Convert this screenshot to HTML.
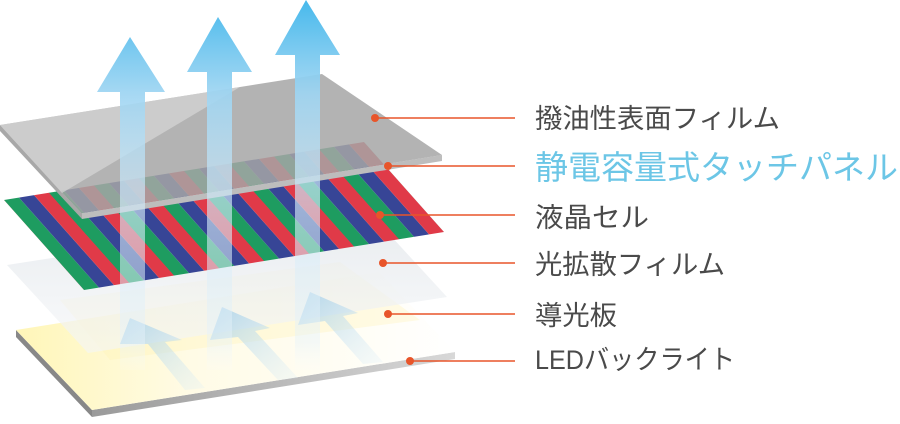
<!DOCTYPE html>
<html><head><meta charset="utf-8"><style>
html,body{margin:0;padding:0;background:#fff;}
svg{display:block;}
text{font-family:"Liberation Sans","Noto Sans CJK JP",sans-serif;}
</style></head><body>
<svg width="900" height="424" viewBox="0 0 900 424" xmlns="http://www.w3.org/2000/svg">
<defs>
<linearGradient id="bl" x1="0" y1="0" x2="1" y2="0">
<stop offset="0" stop-color="#fff6b8"/><stop offset="0.4" stop-color="#fffbe6"/><stop offset="1" stop-color="#ffffff"/>
</linearGradient>
<linearGradient id="edge" x1="0" y1="0" x2="1" y2="0">
<stop offset="0" stop-color="#9a9a9a"/><stop offset="1" stop-color="#d8d8d8"/>
</linearGradient>
<linearGradient id="df" x1="0" y1="0" x2="0" y2="1">
<stop offset="0" stop-color="#e4e8ec" stop-opacity="0.9"/><stop offset="1" stop-color="#f4f6f8" stop-opacity="0.6"/>
</linearGradient>
<pattern id="rgb" patternUnits="userSpaceOnUse" width="3" height="1" patternTransform="matrix(15,-2.42,80,90,4,200)">
<rect x="0" y="0" width="1" height="1" fill="#1e9c60"/>
<rect x="1" y="0" width="1" height="1" fill="#374596"/>
<rect x="2" y="0" width="1" height="1" fill="#e03a48"/>
</pattern>
<linearGradient id="ar" x1="0" y1="0" x2="0" y2="380" gradientUnits="userSpaceOnUse">
<stop offset="0" stop-color="#47b9ec"/>
<stop offset="0.25" stop-color="#9fd5f2" stop-opacity="0.92"/>
<stop offset="0.55" stop-color="#d2eaf8" stop-opacity="0.65"/>
<stop offset="0.9" stop-color="#e6f2fa" stop-opacity="0.45"/>
<stop offset="1" stop-color="#ffffff" stop-opacity="0"/>
</linearGradient>
<linearGradient id="sa" x1="0" y1="0" x2="1" y2="1">
<stop offset="0" stop-color="#9ccbe8" stop-opacity="0.75"/><stop offset="1" stop-color="#d8ecf8" stop-opacity="0.2"/>
</linearGradient>
</defs>

<!-- backlight -->
<polygon points="16,330 92,410 92,417 16,337" fill="#888"/>
<polygon points="92,410 455,352 455,359 92,417" fill="url(#edge)"/>
<polygon points="16,330 379,272 455,352 92,410" fill="url(#bl)"/>
<polygon points="60,300 340,262 420,320 110,360" fill="#fff3b0" opacity="0.3"/>

<!-- diffusion film -->
<polygon points="7,265 366,209 447,297 88,353" fill="url(#df)"/>

<!-- small arrows -->
<g fill="url(#sa)">
<polygon points="120,344 130,318 182,340 165,342 205,388 185,390 148,344"/>
<polygon points="210,340 222,307 270,328 255,331 298,378 278,380 238,337"/>
<polygon points="298,325 310,292 358,313 343,316 383,362 363,364 325,321"/>
</g>

<!-- LCD -->
<polygon points="4,200 364,142 444,232 84,290" fill="url(#rgb)"/>

<!-- top panel -->
<polygon points="82,213 442,155 442,161 82,219" fill="#bdbdbd"/>
<polygon points="0,125 82,213 82,219 0,131" fill="#a8a8a8"/>
<polygon points="0,125 322,74 442,155 82,213" fill="#a6a6a6" opacity="0.85"/>
<polygon points="0,125 240,87 62,193" fill="#d4d4d4" opacity="0.75"/>

<!-- big arrows -->
<polygon points="130,37 165,92 145,92 145,370 120,370 120,92 97,92" fill="url(#ar)"/>
<polygon points="218,17 252,72 232,72 232,370 207,370 207,72 187,72" fill="url(#ar)"/>
<polygon points="306,0 340,55 320,55 320,370 295,370 295,55 275,55" fill="url(#ar)"/>

<!-- leaders -->
<g stroke="#e8552a" stroke-width="1.5">
<line x1="375" y1="118" x2="515" y2="118"/>
<line x1="388" y1="166" x2="515" y2="166"/>
<line x1="380" y1="215" x2="515" y2="215"/>
<line x1="383" y1="263" x2="515" y2="263"/>
<line x1="388" y1="314" x2="515" y2="314"/>
<line x1="410" y1="361" x2="515" y2="361"/>
</g>
<g fill="#e8552a">
<circle cx="375" cy="118" r="4"/><circle cx="388" cy="166" r="4"/><circle cx="380" cy="215" r="4"/>
<circle cx="383" cy="263" r="4"/><circle cx="388" cy="314" r="4"/><circle cx="410" cy="361" r="4"/>
</g>

<g fill="#4a4a4a" font-size="27">
<text x="535" y="128" textLength="245" lengthAdjust="spacingAndGlyphs">撥油性表面フィルム</text>
<text x="535" y="227" textLength="114" lengthAdjust="spacingAndGlyphs">液晶セル</text>
<text x="535" y="274" textLength="190" lengthAdjust="spacingAndGlyphs">光拡散フィルム</text>
<text x="535" y="325" textLength="82" lengthAdjust="spacingAndGlyphs">導光板</text>
<text x="535" y="369" textLength="200" lengthAdjust="spacingAndGlyphs">LEDバックライト</text>
</g>
<text x="535" y="179" font-size="33" fill="#6cc6e6" textLength="363" lengthAdjust="spacingAndGlyphs">静電容量式タッチパネル</text>
</svg>
</body></html>
